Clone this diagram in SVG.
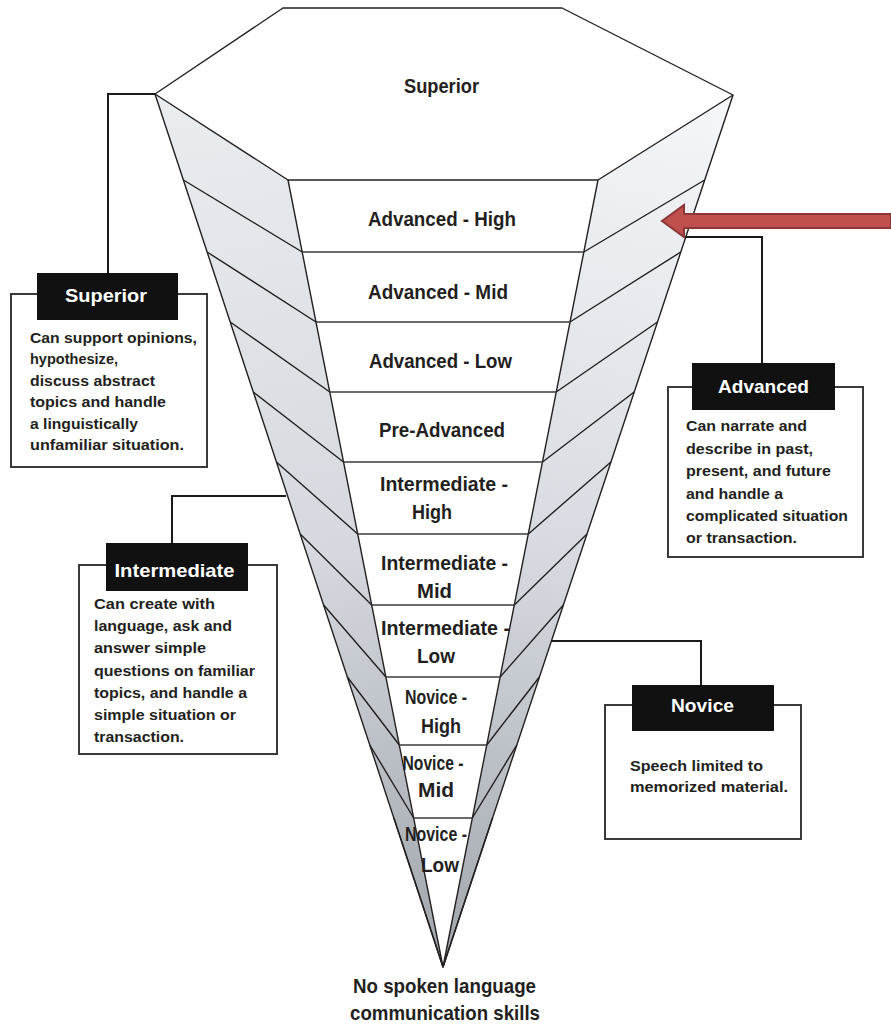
<svg xmlns="http://www.w3.org/2000/svg" width="891" height="1024" viewBox="0 0 891 1024">
<style>
.edge{fill:none;stroke:#231f20;stroke-width:1.4;stroke-linejoin:round}
.band{fill:none;stroke:#3a3a3a;stroke-width:1.4}
.lvl{font-family:"Liberation Sans",Arial,sans-serif;font-weight:bold;font-size:20.5px;fill:#231f20;text-anchor:middle}
.cap{font-family:"Liberation Sans",Arial,sans-serif;font-weight:bold;font-size:19px;fill:#ffffff;text-anchor:middle}
.body{font-family:"Liberation Sans",Arial,sans-serif;font-weight:bold;font-size:14.5px;fill:#231f20}
.box{fill:#ffffff;stroke:#3a3a3a;stroke-width:2}
.tag{fill:#111111}
.conn{fill:none;stroke:#1a1a1a;stroke-width:2}
</style>
<defs>
<linearGradient id="gL" gradientUnits="userSpaceOnUse" x1="150" y1="90" x2="330" y2="960">
<stop offset="0" stop-color="#eaedf0"/>
<stop offset="0.55" stop-color="#d5d9df"/>
<stop offset="1" stop-color="#a3a8af"/>
</linearGradient>
<linearGradient id="gR" gradientUnits="userSpaceOnUse" x1="740" y1="90" x2="560" y2="960">
<stop offset="0" stop-color="#f5f7f9"/>
<stop offset="0.55" stop-color="#d7dbe1"/>
<stop offset="1" stop-color="#a4a9b0"/>
</linearGradient>
</defs>

<g id="funnel">
<polygon points="155,94 288,180 443,967" fill="url(#gL)"/>
<polygon points="733,95 598,180 443,967" fill="url(#gR)"/>
<polygon points="288,180 598,180 443,967" fill="#ffffff"/>
<g class="edge">
<polyline points="302.2,252 183.4,180"/>
<polyline points="316,322 207.1,252"/>
<polyline points="329.8,392 230.2,322"/>
<polyline points="343.5,462 253.3,392"/>
<polyline points="357.7,534 276.4,462"/>
<polyline points="371.7,605 300.2,534"/>
<polyline points="385.9,677 323.6,605"/>
<polyline points="399.3,745 347.3,677"/>
<polyline points="413.7,818 369.8,745"/>
<polyline points="443,967 393.9,818"/>
<polyline points="583.8,252 704.7,180"/>
<polyline points="570,322 680.8,252"/>
<polyline points="556.2,392 657.5,322"/>
<polyline points="542.5,462 634.2,392"/>
<polyline points="528.3,534 610.9,462"/>
<polyline points="514.3,605 587,534"/>
<polyline points="500.1,677 563.4,605"/>
<polyline points="486.7,745 539.4,677"/>
<polyline points="472.3,818 516.8,745"/>
<polyline points="443,967 492.5,818"/>
<polyline points="155,94 443,967 733,95"/>
<polyline points="288,180 443,967 598,180"/>
</g>
<g class="band">
<line x1="302.2" y1="252" x2="583.8" y2="252"/>
<line x1="316" y1="322" x2="570" y2="322"/>
<line x1="329.8" y1="392" x2="556.2" y2="392"/>
<line x1="343.5" y1="462" x2="542.5" y2="462"/>
<line x1="357.7" y1="534" x2="528.3" y2="534"/>
<line x1="371.7" y1="605" x2="514.3" y2="605"/>
<line x1="385.9" y1="677" x2="500.1" y2="677"/>
<line x1="399.3" y1="745" x2="486.7" y2="745"/>
<line x1="413.7" y1="818" x2="472.3" y2="818"/>
</g>
<polygon class="edge" points="283,8 562,8 733,95 598,180 288,180 155,94" fill="#ffffff"/>
</g>

<g id="level-superior"><text class="lvl" x="441.5" y="93" textLength="75" lengthAdjust="spacingAndGlyphs">Superior</text></g>
<g id="level-advanced-high"><text class="lvl" x="442" y="226" textLength="148" lengthAdjust="spacingAndGlyphs">Advanced - High</text></g>
<g id="level-advanced-mid"><text class="lvl" x="438" y="299" textLength="140" lengthAdjust="spacingAndGlyphs">Advanced - Mid</text></g>
<g id="level-advanced-low"><text class="lvl" x="440.5" y="368" textLength="143" lengthAdjust="spacingAndGlyphs">Advanced - Low</text></g>
<g id="level-pre-advanced"><text class="lvl" x="442" y="437" textLength="126" lengthAdjust="spacingAndGlyphs">Pre-Advanced</text></g>
<g id="level-intermediate-high"><text class="lvl" x="444" y="491" textLength="128" lengthAdjust="spacingAndGlyphs">Intermediate -</text><text class="lvl" x="432" y="519" textLength="40" lengthAdjust="spacingAndGlyphs">High</text></g>
<g id="level-intermediate-mid"><text class="lvl" x="444.5" y="570" textLength="127" lengthAdjust="spacingAndGlyphs">Intermediate -</text><text class="lvl" x="434.5" y="598" textLength="35" lengthAdjust="spacingAndGlyphs">Mid</text></g>
<g id="level-intermediate-low"><text class="lvl" x="445.5" y="635" textLength="129" lengthAdjust="spacingAndGlyphs">Intermediate -</text><text class="lvl" x="436" y="663" textLength="38" lengthAdjust="spacingAndGlyphs">Low</text></g>
<g id="level-novice-high"><text class="lvl" x="436" y="704" textLength="62" lengthAdjust="spacingAndGlyphs">Novice -</text><text class="lvl" x="441" y="733" textLength="40" lengthAdjust="spacingAndGlyphs">High</text></g>
<g id="level-novice-mid"><text class="lvl" x="433" y="770" textLength="61" lengthAdjust="spacingAndGlyphs">Novice -</text><text class="lvl" x="436" y="797" textLength="36" lengthAdjust="spacingAndGlyphs">Mid</text></g>
<g id="level-novice-low"><text class="lvl" x="436" y="841" textLength="62" lengthAdjust="spacingAndGlyphs">Novice -</text><text class="lvl" x="440" y="872" textLength="38" lengthAdjust="spacingAndGlyphs">Low</text></g>
<g id="level-none"><text class="lvl" x="444.5" y="993" textLength="183" lengthAdjust="spacingAndGlyphs">No spoken language</text><text class="lvl" x="445" y="1020" textLength="190" lengthAdjust="spacingAndGlyphs">communication skills</text></g>

<g id="connectors">
<polyline class="conn" points="155,94 108,94 108,274"/>
<polyline class="conn" points="686,237 762,237 762,364"/>
<polyline class="conn" points="286,496 172,496 172,544"/>
<polyline class="conn" points="552,641 701,641 701,686"/>
<polygon points="891,214 684,214 684,205 662,221 684,237 684,228 891,228" fill="#c0504d" stroke="#8c3836" stroke-width="2" stroke-linejoin="miter"/>
</g>

<g id="box-superior">
<rect class="box" x="11" y="294" width="196" height="173"/>
<rect class="tag" x="37" y="273" width="141" height="47"/>
<text class="cap" x="106" y="302" textLength="82" lengthAdjust="spacingAndGlyphs">Superior</text>
<text class="body" x="30" y="343" textLength="167" lengthAdjust="spacingAndGlyphs">Can support opinions,</text>
<text class="body" x="30" y="364" textLength="88" lengthAdjust="spacingAndGlyphs">hypothesize,</text>
<text class="body" x="30" y="386" textLength="125" lengthAdjust="spacingAndGlyphs">discuss abstract</text>
<text class="body" x="30" y="407" textLength="136" lengthAdjust="spacingAndGlyphs">topics and handle</text>
<text class="body" x="30" y="429" textLength="108" lengthAdjust="spacingAndGlyphs">a linguistically</text>
<text class="body" x="30" y="450" textLength="154" lengthAdjust="spacingAndGlyphs">unfamiliar situation.</text>
</g>

<g id="box-advanced">
<rect class="box" x="668" y="387" width="195" height="170"/>
<rect class="tag" x="692" y="363" width="143" height="47"/>
<text class="cap" x="763.5" y="393" textLength="91" lengthAdjust="spacingAndGlyphs">Advanced</text>
<text class="body" x="686" y="431" textLength="121" lengthAdjust="spacingAndGlyphs">Can narrate and</text>
<text class="body" x="686" y="454" textLength="127" lengthAdjust="spacingAndGlyphs">describe in past,</text>
<text class="body" x="686" y="476" textLength="145" lengthAdjust="spacingAndGlyphs">present, and future</text>
<text class="body" x="686" y="499" textLength="97" lengthAdjust="spacingAndGlyphs">and handle a</text>
<text class="body" x="686" y="521" textLength="162" lengthAdjust="spacingAndGlyphs">complicated situation</text>
<text class="body" x="686" y="543" textLength="111" lengthAdjust="spacingAndGlyphs">or transaction.</text>
</g>

<g id="box-intermediate">
<rect class="box" x="79" y="565" width="198" height="189"/>
<rect class="tag" x="106" y="543" width="142" height="48"/>
<text class="cap" x="174.5" y="577" textLength="120" lengthAdjust="spacingAndGlyphs">Intermediate</text>
<text class="body" x="94" y="609" textLength="121" lengthAdjust="spacingAndGlyphs">Can create with</text>
<text class="body" x="94" y="631" textLength="138" lengthAdjust="spacingAndGlyphs">language, ask and</text>
<text class="body" x="94" y="653" textLength="112" lengthAdjust="spacingAndGlyphs">answer simple</text>
<text class="body" x="94" y="676" textLength="161" lengthAdjust="spacingAndGlyphs">questions on familiar</text>
<text class="body" x="94" y="698" textLength="153" lengthAdjust="spacingAndGlyphs">topics, and handle a</text>
<text class="body" x="94" y="720" textLength="142" lengthAdjust="spacingAndGlyphs">simple situation or</text>
<text class="body" x="94" y="742" textLength="90" lengthAdjust="spacingAndGlyphs">transaction.</text>
</g>

<g id="box-novice">
<rect class="box" x="605" y="705" width="196" height="134"/>
<rect class="tag" x="632" y="685" width="142" height="46"/>
<text class="cap" x="702.5" y="712" textLength="63" lengthAdjust="spacingAndGlyphs">Novice</text>
<text class="body" x="630" y="771" textLength="133" lengthAdjust="spacingAndGlyphs">Speech limited to</text>
<text class="body" x="630" y="792" textLength="158" lengthAdjust="spacingAndGlyphs">memorized material.</text>
</g>
</svg>
